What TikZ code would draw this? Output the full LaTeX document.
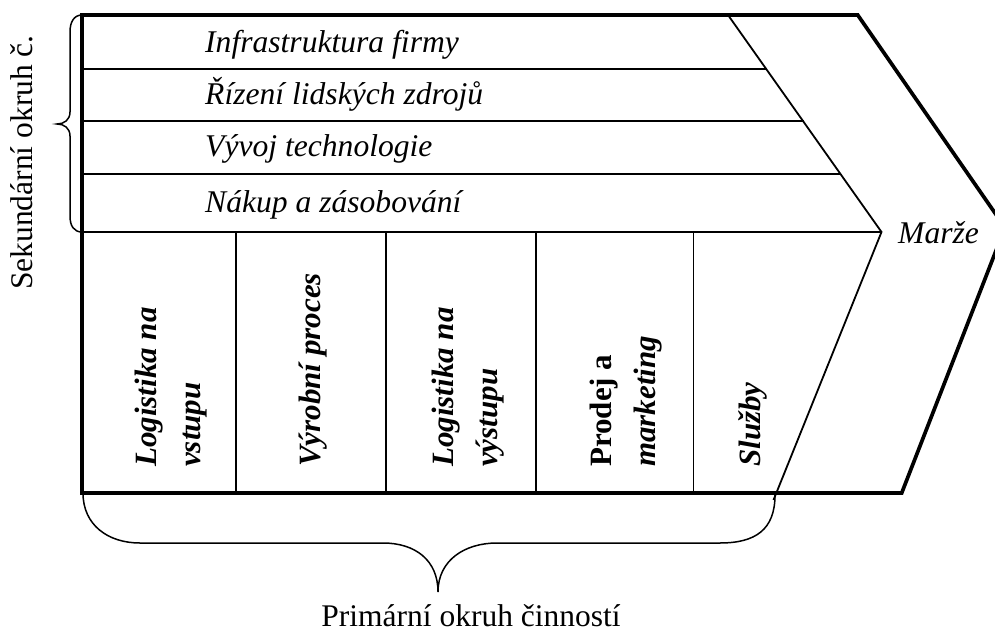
\documentclass[tikz,border=0pt]{standalone}
\usepackage{fontspec}
\setmainfont{Liberation Serif}
\begin{document}
\begin{tikzpicture}[x=1pt,y=-1pt,
  outerline/.style={line width=3.7pt, line join=miter, miter limit=20},
  thinline/.style={line width=1.8pt},
  braceline/.style={line width=1.5pt},
  lab/.style={font=\fontsize{31.6}{44}\selectfont\itshape, inner sep=0pt, anchor=base west},
  col/.style={font=\fontsize{31}{44}\selectfont\bfseries\itshape, rotate=90, anchor=base west, align=left, inner sep=0pt},
  plain/.style={font=\fontsize{31.5}{44}\selectfont, inner sep=0pt}]
\useasboundingbox (0,0) rectangle (995,631);
% key points
\coordinate (TL) at (82,15);
\coordinate (TR) at (857.7,15);
\coordinate (AP) at (1005,227.5);
\coordinate (BR) at (901.7,493);
\coordinate (BL) at (82,493);
\coordinate (D1) at (728,15);
\coordinate (D2) at (881.5,232);
\coordinate (D3) at (773.5,500);
% rows
\coordinate (R1a) at (82,69);  \coordinate (R1b) at (766.2,69);
\coordinate (R2a) at (82,121); \coordinate (R2b) at (804,121);
\coordinate (R3a) at (82,174); \coordinate (R3b) at (840.5,174);
\coordinate (R4a) at (82,232);
% columns
\coordinate (C1t) at (236,232);   \coordinate (C1b) at (236,493);
\coordinate (C2t) at (386,232);   \coordinate (C2b) at (386,493);
\coordinate (C3t) at (536,232);   \coordinate (C3b) at (536,493);
\coordinate (C4t) at (693.5,232); \coordinate (C4b) at (693.5,493);

\draw[thinline] (R1a) -- (R1b);
\draw[thinline] (R2a) -- (R2b);
\draw[thinline] (R3a) -- (R3b);
\draw[line width=2.3pt] (R4a) -- (D2);
\draw[thinline] (C1t) -- (C1b);
\draw[thinline] (C2t) -- (C2b);
\draw[thinline] (C3t) -- (C3b);
\draw[thinline] (C4t) -- (C4b);
\draw[thinline] (D1) -- (D2) -- (D3);
\draw[outerline] (TL) -- (TR) -- (AP) -- (BR) -- (BL) -- cycle;
\draw[line width=4.5pt] (TL) -- (BL);

% braces
\draw[braceline] (82,15) .. controls (74,15) and (70,22) .. (70,32) -- (70,112)
  .. controls (70,120) and (64,124) .. (57,124)
  .. controls (64,124) and (70,128) .. (70,136) -- (70,216)
  .. controls (70,226) and (74,232) .. (82,232);
\draw[braceline] (83,493) .. controls (83,525) and (108,543) .. (140,543) -- (383,543)
  .. controls (415,543) and (438,560) .. (438,592)
  .. controls (438,560) and (465,543) .. (497,543) -- (720,543)
  .. controls (755,543) and (775,530) .. (775,495);

% support activities
\node[lab] (infra) at (205,53) {Infrastruktura firmy};
\node[lab] (hr) at (205,105) {Řízení lidských zdrojů};
\node[lab] (tech) at (205,157) {Vývoj technologie};
\node[lab] (nakup) at (205,212) {Nákup a zásobování};
\node[lab] (marze) at (898,243) {Marže};

% primary activities (base = baseline of the last line)
\node[col] (log1) at (200,467) {Logistika na\\vstupu};
\node[col] (vyr) at (320,467) {Výrobní proces};
\node[col] (log2) at (497,467) {Logistika na\\výstupu};
\node[col] (prod) at (655,467) {{\upshape Prodej a}\\marketing};
\node[col] (sluz) at (760,467) {Služby};

% brace labels
\node[plain, rotate=90, anchor=base west] (sek) at (32,290) {Sekundární okruh č.};
\node[plain, anchor=base] (prim) at (471,626) {Primární okruh činností};
\end{tikzpicture}
\end{document}
